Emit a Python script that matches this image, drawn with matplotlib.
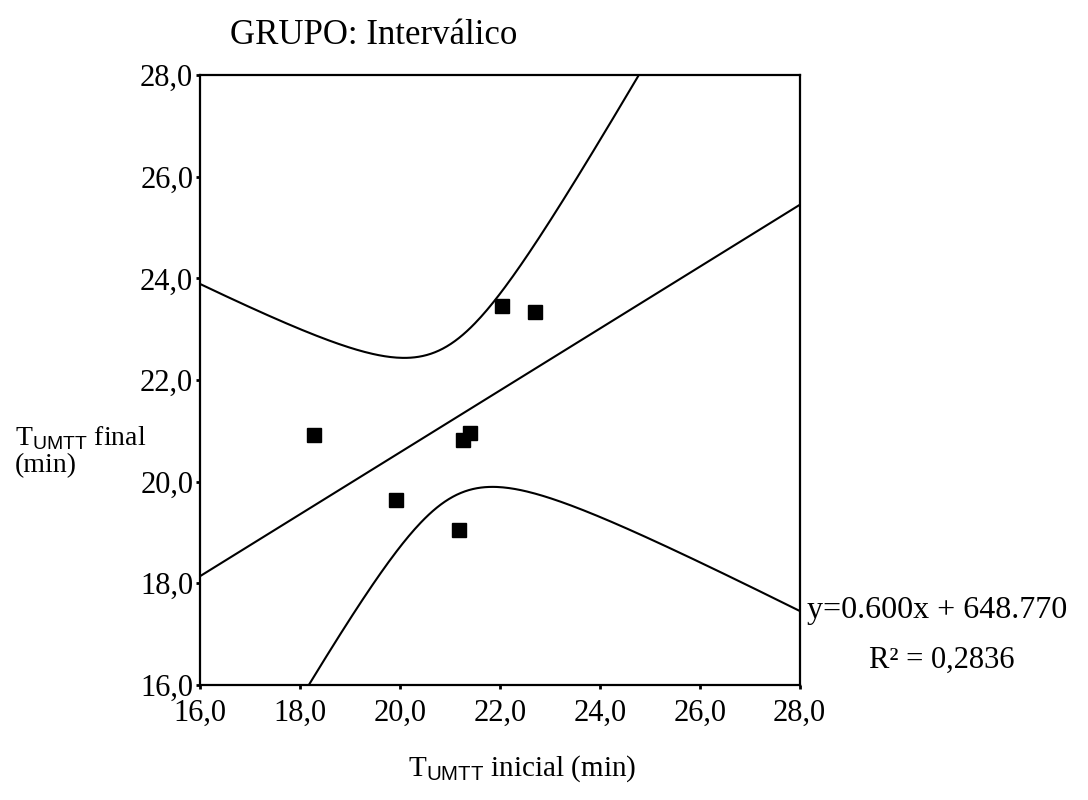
import numpy as np
import matplotlib.pyplot as plt
from matplotlib.ticker import FuncFormatter

plt.rcParams['font.family'] = ['Liberation Serif', 'DejaVu Serif']
plt.rcParams['mathtext.fontset'] = 'custom'
plt.rcParams['mathtext.rm'] = 'Liberation Sans'

# data
t_inicial = np.array([18.27, 19.91, 21.18, 21.27, 21.40, 22.05, 22.70])
t_final = np.array([20.92, 19.64, 19.05, 20.82, 20.95, 23.45, 23.33])
ticks = [16, 18, 20, 22, 24, 26, 28]

# linear fit and 95% band for the mean (t 0.975, df=5)
n = len(t_inicial)
b, a = np.polyfit(t_inicial, t_final, 1)
res = t_final - (a + b * t_inicial)
s = np.sqrt(np.sum(res**2) / (n - 2))
sxx = np.sum((t_inicial - t_inicial.mean())**2)
t_crit = 2.571

xs = np.linspace(16, 28, 300)
fit = a + b * xs
hw = t_crit * s * np.sqrt(1 / n + (xs - t_inicial.mean())**2 / sxx)

fig = plt.figure(figsize=(10.88, 8), dpi=100)
ax = fig.add_axes([0.184, 0.144, 0.551, 0.762])

ax.plot(xs, fit, color='black', lw=1.5)
ax.plot(xs, fit + hw, color='black', lw=1.5)
ax.plot(xs, fit - hw, color='black', lw=1.5)
ax.plot(t_inicial, t_final, 's', color='black', ms=10)

ax.set_xlim(16, 28)
ax.set_ylim(16, 28)
ax.set_xticks(ticks)
ax.set_yticks(ticks)
fmt = FuncFormatter(lambda v, p: ('%.1f' % v).replace('.', ','))
ax.xaxis.set_major_formatter(fmt)
ax.yaxis.set_major_formatter(fmt)
ax.tick_params(direction='out', length=3, width=2, labelsize=22, pad=2)
ax.tick_params(axis='x', pad=7)
for sp in ax.spines.values():
    sp.set_linewidth(1.6)

fig.text(0.211, 0.945, 'GRUPO: Interválico', fontsize=25)
fig.text(0.014, 0.402, r'T$_{\mathrm{UMTT}}$ final' + '\n(min)', fontsize=20,
         va='bottom', linespacing=1.05)
fig.text(0.48, 0.03, r'T$_{\mathrm{UMTT}}$ inicial (min)', fontsize=21, ha='center')
fig.text(0.742, 0.228, 'y=0.600x + 648.770', fontsize=23)
fig.text(0.866, 0.165, 'R² = 0,2836', fontsize=22, ha='center')

fig.savefig('out.png')
